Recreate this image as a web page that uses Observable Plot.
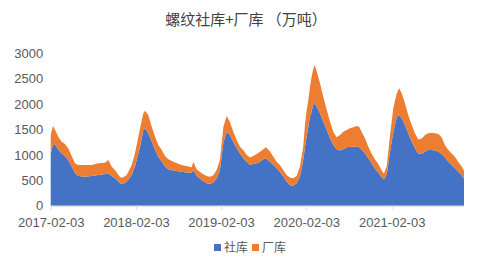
<!DOCTYPE html>
<html>
<head>
<meta charset="utf-8">
<script src="https://cdn.jsdelivr.net/npm/d3@7"></script>
<script src="https://cdn.jsdelivr.net/npm/@observablehq/plot@0.6"></script>
<style>
  html, body { margin: 0; padding: 0; background: #fff; }
  body { width: 500px; height: 267px; position: relative; overflow: hidden;
         font-family: "Noto Sans CJK SC", "Noto Sans", sans-serif; }
  #title { position: absolute; left: 0; width: 492px; top: 8px; text-align: center;
           font-size: 15px; color: #404040; line-height: 22px; }
  #legend { position: absolute; left: 0; width: 500px; top: 238px; text-align: center;
            font-size: 12px; color: #595959; line-height: 18px; }
  #legend span.sw { display: inline-block; width: 7px; height: 7px; margin-right: 3px; vertical-align: 1px; }
  #legend span.item { margin: 0 2px; }
  #chart { position: absolute; left: 0; top: 0; }
</style>
</head>
<body>
<div id="chart"></div>
<div id="title">螺纹社库+厂库 （万吨）</div>
<div id="legend"></div>
<script>
const title = "螺纹社库+厂库 （万吨）";
const seriesNames = ["社库", "厂库"];
const seriesColors = ["#4472C4", "#ED7D31"];
const yTicks = [0, 500, 1000, 1500, 2000, 2500, 3000];
const xTickLabels = ["2017-02-03", "2018-02-03", "2019-02-03", "2020-02-03", "2021-02-03"];

const dates = [
  "2017-02-03","2017-02-13","2017-02-21","2017-03-08","2017-03-22","2017-04-05","2017-04-19","2017-05-04","2017-05-18","2017-06-01",
  "2017-06-30","2017-07-29","2017-08-26","2017-09-24","2017-10-08","2017-10-22","2017-11-05","2017-11-27","2017-12-07","2017-12-26",
  "2018-01-16","2018-01-30","2018-02-21","2018-03-07","2018-03-14","2018-03-28","2018-04-12","2018-04-26","2018-05-10","2018-05-25",
  "2018-06-08","2018-06-22","2018-07-21","2018-08-18","2018-09-16","2018-09-30","2018-10-07","2018-10-22","2018-11-12","2018-12-03",
  "2018-12-18","2019-01-01","2019-01-15","2019-01-29","2019-02-13","2019-02-27","2019-03-13","2019-03-27","2019-04-11","2019-04-25",
  "2019-05-09","2019-05-24","2019-06-07","2019-06-21","2019-07-06","2019-07-20","2019-08-03","2019-08-14","2019-09-01","2019-09-15",
  "2019-09-29","2019-10-13","2019-10-28","2019-11-11","2019-11-25","2019-12-09","2019-12-24","2020-01-07","2020-01-21","2020-01-29",
  "2020-02-05","2020-02-12","2020-02-19","2020-02-26","2020-03-03","2020-03-10","2020-03-19","2020-04-02","2020-04-16","2020-05-01",
  "2020-05-15","2020-05-29","2020-06-12","2020-06-27","2020-07-11","2020-07-25","2020-08-08","2020-08-22","2020-09-06","2020-09-17",
  "2020-09-27","2020-10-12","2020-10-26","2020-11-09","2020-11-23","2020-12-08","2020-12-22","2021-01-01","2021-01-13","2021-01-27",
  "2021-02-10","2021-02-24","2021-03-07","2021-03-18","2021-04-01","2021-04-15","2021-04-30","2021-05-14","2021-05-28","2021-06-12",
  "2021-06-26","2021-07-10","2021-07-24","2021-08-08","2021-08-22","2021-09-05","2021-09-19","2021-10-04","2021-10-18","2021-11-01",
  "2021-11-15","2021-11-30","2021-12-10"
];

// 社库 (social inventory)
const social = [
  1030,1200,1210,1100,1030,980,900,770,640,585,
  570,585,605,625,640,585,540,440,420,470,
  605,770,1160,1490,1525,1425,1260,1095,965,865,
  770,715,690,670,650,650,700,585,505,440,
  425,455,540,700,1240,1455,1390,1260,1130,1030,
  935,865,800,820,835,865,915,935,865,800,
  735,670,570,470,405,395,440,570,900,1160,
  1360,1555,1750,1850,1980,2015,1950,1820,1655,1490,
  1325,1195,1110,1085,1110,1150,1160,1160,1160,1150,
  1110,1030,935,835,735,650,560,520,620,1060,
  1440,1730,1785,1720,1590,1425,1260,1130,1030,1020,
  1065,1095,1095,1085,1065,1020,955,865,800,735,
  670,605,530
];

// 厂库 (factory inventory)
const factory = [
  360,370,290,250,230,235,230,210,195,215,
  230,215,230,220,260,185,165,125,130,135,
  195,260,365,330,345,360,295,265,230,230,
  210,200,160,130,120,105,165,130,135,145,
  145,145,165,200,315,310,260,200,165,130,
  160,135,150,160,185,195,195,215,200,165,
  130,130,130,135,150,145,145,200,260,460,
  525,525,590,690,690,755,690,590,490,395,
  330,260,235,305,345,340,365,385,410,405,
  345,295,225,195,180,170,140,110,160,330,
  480,470,525,495,425,360,330,295,275,305,
  325,330,340,340,345,325,240,230,230,230,
  195,165,160
];

const parse = d3.utcParse("%Y-%m-%d");
const table = [];
dates.forEach((d, i) => {
  table.push({date: parse(d), series: seriesNames[0], value: social[i]});
  table.push({date: parse(d), series: seriesNames[1], value: factory[i]});
});

const chart = Plot.plot({
  width: 500,
  height: 267,
  marginTop: 53.3,
  marginBottom: 61.3,
  marginLeft: 50.7,
  marginRight: 36,
  style: {fontFamily: '"Liberation Sans", Arial, sans-serif', fontSize: "13px", background: "transparent", color: "#595959"},
  x: {type: "utc", domain: [parse(dates[0]), parse(dates[dates.length - 1])]},
  y: {domain: [0, 3000]},
  color: {domain: seriesNames, range: seriesColors},
  marks: [
    Plot.areaY(table, {x: "date", y: "value", fill: "series", order: seriesNames, curve: "linear"}),
    Plot.ruleY([0], {stroke: "#d9d9d9", strokeWidth: 1}),
    Plot.axisX({ticks: xTickLabels.map(parse), tickFormat: d3.utcFormat("%Y-%m-%d"), tickSize: 4, tickPadding: 8, stroke: "#d9d9d9", fill: "#595959", label: null}),
    Plot.axisY({ticks: yTicks, tickFormat: d3.format("d"), tickSize: 0, tickPadding: 8, fill: "#595959", label: null})
  ]
});
document.getElementById("chart").appendChild(chart);

document.getElementById("title").textContent = title;
const legend = document.getElementById("legend");
seriesNames.forEach((name, i) => {
  const item = document.createElement("span");
  item.className = "item";
  item.innerHTML = `<span class="sw" style="background:${seriesColors[i]}"></span>${name}`;
  legend.appendChild(item);
});
</script>
</body>
</html>
